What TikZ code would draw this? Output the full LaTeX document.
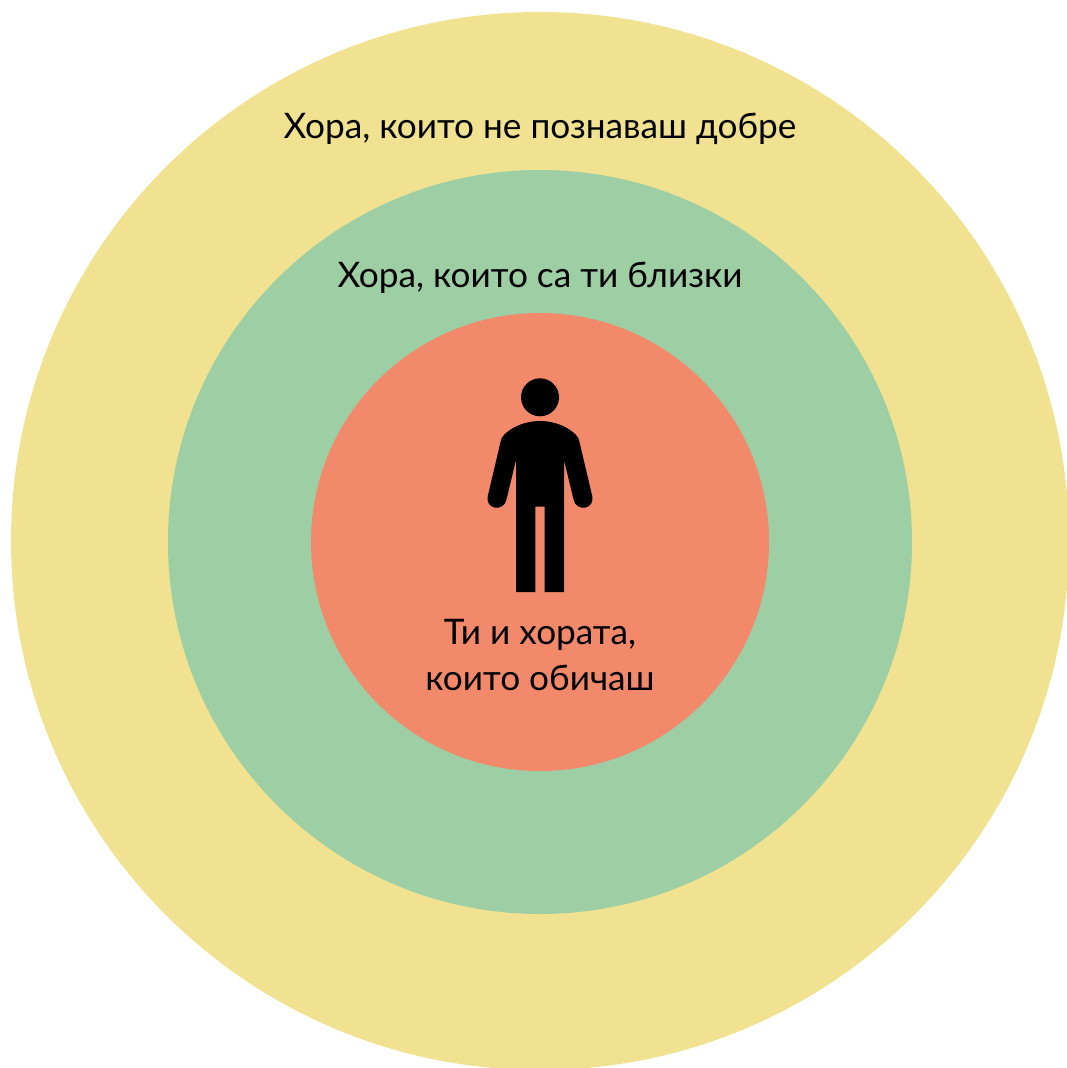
\documentclass[tikz,border=0pt]{standalone}
\usepackage{fontspec}
\setmainfont{Lato}
\usepackage{tikz}
\usetikzlibrary{positioning}
\definecolor{outerc}{HTML}{F0E290}
\definecolor{midc}{HTML}{9DCEA4}
\definecolor{innerc}{HTML}{F2896B}
\begin{document}
\begin{tikzpicture}[x=1pt,y=-1pt,font=\fontsize{35.2}{46}\selectfont]
\tikzstyle{ring}=[circle,inner sep=0pt,draw=none]
\tikzstyle{lbl}=[align=center,text=black,inner sep=0pt]
\useasboundingbox (0,0) rectangle (1066,1068);
\node[ring,fill=outerc,minimum size=1058pt] (outer) at (540,541) {};
\node[ring,fill=midc,minimum size=744pt] (mid) at (540,542) {};
\node[ring,fill=innerc,minimum size=458pt] (inner) at (540,542) {};
\node[lbl] (t1) at (540,129) {Хора, които не познаваш добре};
\node[lbl] (t2) at (540,278) {Хора, които са ти близки};
\node[lbl] (t3) at (540,655) {Ти и хората,\\които обичаш};
% person
\node[ring,fill=black,minimum size=38pt] (head) at (540,397.3) {};
\fill[black] (516,592) -- (516,460) -- (506.5,499.5) .. controls (504,512) and (484.5,510) .. (487.9,495.5) -- (501,440) .. controls (502,434) and (518,421) .. (540,421) .. controls (562,421) and (578,434) .. (579,440) -- (592.1,495.5) .. controls (595.5,510) and (576,512) .. (573.5,499.5) -- (564,460) -- (564,592) -- (544.7,592) -- (544.7,506.7) -- (535.3,506.7) -- (535.3,592) -- cycle;
\end{tikzpicture}
\end{document}
